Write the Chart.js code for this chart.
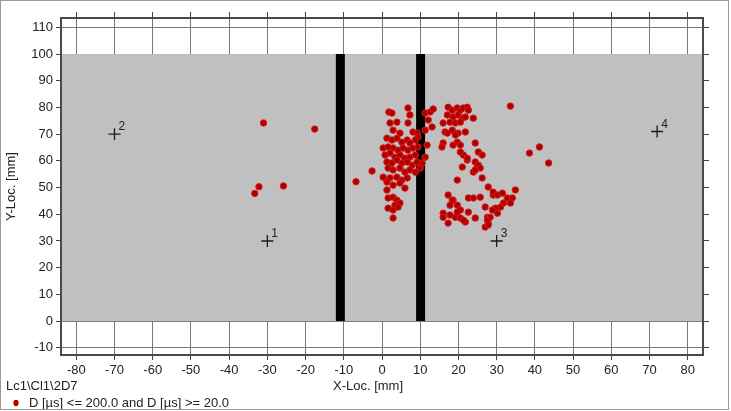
<!DOCTYPE html>
<html>
<head>
<meta charset="utf-8">
<script src="https://cdn.jsdelivr.net/npm/chart.js@4.4.0/dist/chart.umd.min.js"></script>
<style>
  body { margin: 0; background: #fff; }
  canvas { display: block; }
</style>
</head>
<body>
<canvas id="locChart" width="731" height="411"></canvas>
<script>
// located events (mm)
var eventX = [
  -31.0, -17.6, -32.2, -33.3, -25.8, -6.8, -2.6,
  1.8, 2.6, 6.8, 7.3, 2.1, 3.9, 6.8, 2.9, 4.7, 8.1,
  9.2, 9.4, 8.7, 1.3, 2.6, 3.9, 5.2, 6.6, 7.3, 0.3,
  1.6, 2.9, 4.2, 5.5, 6.8, 8.1, 9.4, 0.8, 2.1, 3.4,
  4.7, 6.0, 7.3, 8.7, 1.3, 2.6, 3.9, 5.2, 6.6, 7.9,
  9.2, 1.6, 2.9, 4.7, 6.0, 7.3, 8.7, 10.0, 10.5, 0.3,
  2.1, 3.9, 5.2, 6.6, 1.3, 2.9, 4.7, 6.0, 1.3, 1.6,
  2.9, 3.9, 4.7, 3.4, 1.6, 2.9, 4.2, 2.9,
  11.3, 12.6, 13.4, 12.1, 13.1, 11.3, 11.8, 11.3,
  17.3, 18.4, 19.7, 20.5, 21.3, 22.3, 22.6, 17.1, 18.6, 19.9,
  21.0, 21.8, 16.0, 17.8, 19.2, 20.5, 23.9, 16.5, 18.4, 19.9,
  21.8, 16.0, 15.7, 19.7, 20.5, 24.4, 21.3, 20.5, 25.2, 26.2,
  22.3, 24.4, 24.9, 21.0, 19.7, 23.9, 25.2, 26.2,
  17.1, 19.2, 18.6, 25.7, 24.4, 22.3,
  17.3, 18.6, 19.7, 20.5, 22.6, 23.9, 25.7, 27.8, 29.1, 16.0,
  17.8, 19.2, 20.5, 21.8, 22.6, 24.4, 27.0, 27.6, 27.8, 27.0,
  17.3, 16.0,
  29.1, 30.2, 31.5, 32.8, 34.1, 34.9, 33.6, 31.8, 31.0, 29.7,
  28.9, 30.2, 28.3, 27.6, 27.8, 21.3, 19.7, 17.8, 18.4,
  33.6, 38.6, 41.2, 43.6
];
var eventY = [
  74.2, 71.9, 50.3, 47.8, 50.6, 52.2, 56.2,
  78.3, 77.9, 79.8, 77.2, 74.2, 74.5, 74.2, 71.5, 70.4, 70.8,
  70.4, 68.9, 67.8, 68.5, 67.8, 68.5, 67.0, 67.8, 66.7, 64.8,
  65.2, 64.8, 64.0, 64.8, 64.0, 64.8, 65.2, 62.2, 62.9, 61.4,
  62.2, 61.0, 61.4, 62.2, 59.6, 59.2, 60.3, 59.2, 59.6, 58.4,
  59.6, 57.3, 56.6, 57.3, 55.8, 56.6, 55.8, 57.3, 59.2, 53.9,
  53.6, 53.9, 52.8, 53.6, 52.1, 50.9, 51.7, 49.8, 49.1, 46.1,
  46.4, 45.3, 44.2, 43.4, 42.3, 41.6, 42.7, 38.6,
  77.9, 78.3, 79.4, 75.3, 72.7, 71.5, 65.9, 61.4,
  80.1, 79.0, 79.8, 79.0, 79.8, 80.1, 79.0, 77.2, 76.4, 77.2,
  76.0, 76.4, 74.2, 74.5, 74.2, 74.5, 76.0, 70.8, 71.5, 70.4,
  70.8, 66.7, 65.2, 67.0, 65.9, 66.7, 62.2, 63.3, 63.3, 62.2,
  60.3, 59.6, 57.7, 57.7, 52.8, 55.8, 58.4, 53.6,
  70.4, 69.7, 65.9, 57.3, 56.6, 61.0,
  47.2, 45.3, 43.4, 41.6, 46.1, 46.1, 46.4, 50.2, 47.2, 40.4,
  39.7, 38.9, 38.6, 37.1, 40.8, 38.6, 42.7, 38.9, 36.7, 35.2,
  36.7, 38.9,
  48.3, 47.2, 47.9, 46.1, 46.1, 49.1, 44.2, 44.2, 42.7, 42.3,
  41.6, 40.4, 38.9, 37.8, 36.0, 37.8, 40.8, 43.4, 45.3,
  80.5, 62.9, 65.2, 59.2
];

// sensors
var sensorX = [-30, -70, 30, 72];
var sensorY = [30, 70, 30, 71];
var sensorLabels = ['1', '2', '3', '4'];

// black strips and the grey specimen area
var stripX = [-10.9, 10.1];
var stripY = [0, 100];
var specimenY = [0, 100];

var xRange = [-84, 84];
var yRange = [-12.7, 113.5];

var fontFamily = '"Liberation Sans", Arial, sans-serif';
var textColor = '#222';

function toPoints(xs, ys) {
  return xs.map(function (x, i) { return {x: x, y: ys[i]}; });
}

var stripSets = stripX.map(function (x) {
  return {
    type: 'line',
    data: [{x: x, y: stripY[0]}, {x: x, y: stripY[1]}],
    borderColor: '#000',
    borderWidth: 9,
    borderCapStyle: 'butt',
    pointRadius: 0,
    showLine: true,
    order: 2
  };
});

var decor = {
  id: 'decor',
  beforeDatasetsDraw: function (chart) {
    var ctx = chart.ctx, a = chart.chartArea, y = chart.scales.y;
    var top = y.getPixelForValue(specimenY[1]);
    var bot = y.getPixelForValue(specimenY[0]);
    ctx.save();
    ctx.fillStyle = '#c0c0c0';
    ctx.fillRect(a.left, top, a.right - a.left, bot - top);
    ctx.restore();
  },
  afterDatasetsDraw: function (chart) {
    var ctx = chart.ctx, a = chart.chartArea;
    var xs = chart.scales.x, ys = chart.scales.y;
    ctx.save();
    // plot frame
    ctx.strokeStyle = '#4a4a4a';
    ctx.lineWidth = 2;
    ctx.strokeRect(a.left, a.top, a.right - a.left, a.bottom - a.top);

    // sensor numbers
    ctx.fillStyle = textColor;
    ctx.font = '12px ' + fontFamily;
    ctx.textAlign = 'left';
    ctx.textBaseline = 'middle';
    sensorLabels.forEach(function (t, i) {
      ctx.fillText(t, xs.getPixelForValue(sensorX[i]) + 4, ys.getPixelForValue(sensorY[i]) - 7);
    });

    // bottom texts
    ctx.font = '13px ' + fontFamily;
    ctx.fillText('X-Loc. [mm]', 333, 386);
    ctx.fillText('Lc1\\Cl1\\2D7', 6, 386);
    ctx.fillText('D [\u00b5s] <= 200.0 and D [\u00b5s] >= 20.0', 29, 403);
    ctx.fillStyle = '#b00000';
    ctx.beginPath();
    ctx.ellipse(16, 403, 2.6, 3.2, 0, 0, Math.PI * 2);
    ctx.fill();

    // outer border
    ctx.strokeStyle = '#9a9a9a';
    ctx.lineWidth = 1;
    ctx.strokeRect(0.5, 0.5, 728, 409);
    ctx.restore();
  }
};

var gridCommon = {
  color: '#7a7a7a',
  lineWidth: 1,
  tickColor: '#444',
  tickLength: 5
};

var ctx = document.getElementById('locChart').getContext('2d');
var myChart = new Chart(ctx, {
  type: 'scatter',
  data: {
    datasets: [
      {
        label: 'Sensors',
        data: toPoints(sensorX, sensorY),
        pointStyle: 'cross',
        pointRadius: 6,
        borderColor: '#1a1a1a',
        borderWidth: 1.3,
        order: 0
      },
      {
        label: 'D [\u00b5s] <= 200.0 and D [\u00b5s] >= 20.0',
        data: toPoints(eventX, eventY),
        pointRadius: 3.2,
        backgroundColor: 'rgb(175, 0, 0)',
        borderColor: 'rgb(215, 25, 25)',
        borderWidth: 1,
        order: 1
      }
    ].concat(stripSets)
  },
  options: {
    responsive: false,
    animation: false,
    devicePixelRatio: 1,
    layout: { padding: 0 },
    plugins: {
      legend: { display: false },
      tooltip: { enabled: false },
      title: { display: false }
    },
    scales: {
      x: {
        type: 'linear',
        position: 'bottom',
        min: xRange[0],
        max: xRange[1],
        border: { display: false },
        grid: gridCommon,
        ticks: {
          stepSize: 10,
          includeBounds: false,
          color: textColor,
          padding: 3,
          maxRotation: 0,
          font: { family: fontFamily, size: 13 }
        },
        afterFit: function (s) { s.height = 56; }
      },
      xTop: {
        type: 'linear',
        position: 'top',
        min: xRange[0],
        max: xRange[1],
        border: { display: false },
        grid: { drawOnChartArea: false, tickColor: '#444', tickLength: 6 },
        ticks: { display: false, stepSize: 10, includeBounds: false },
        afterFit: function (s) { s.height = 18; }
      },
      y: {
        type: 'linear',
        position: 'left',
        min: yRange[0],
        max: yRange[1],
        border: { display: false },
        grid: gridCommon,
        ticks: {
          stepSize: 10,
          includeBounds: false,
          color: textColor,
          padding: 3,
          font: { family: fontFamily, size: 13 }
        },
        title: {
          display: true,
          text: 'Y-Loc. [mm]',
          color: textColor,
          padding: { top: 4, bottom: 0 },
          font: { family: fontFamily, size: 13 }
        },
        afterFit: function (s) { s.width = 61; }
      },
      yRight: {
        type: 'linear',
        position: 'right',
        min: yRange[0],
        max: yRange[1],
        border: { display: false },
        grid: { drawOnChartArea: false, tickColor: '#444', tickLength: 6 },
        ticks: { display: false, stepSize: 10, includeBounds: false },
        afterFit: function (s) { s.width = 28; }
      }
    }
  },
  plugins: [decor]
});
</script>
</body>
</html>
